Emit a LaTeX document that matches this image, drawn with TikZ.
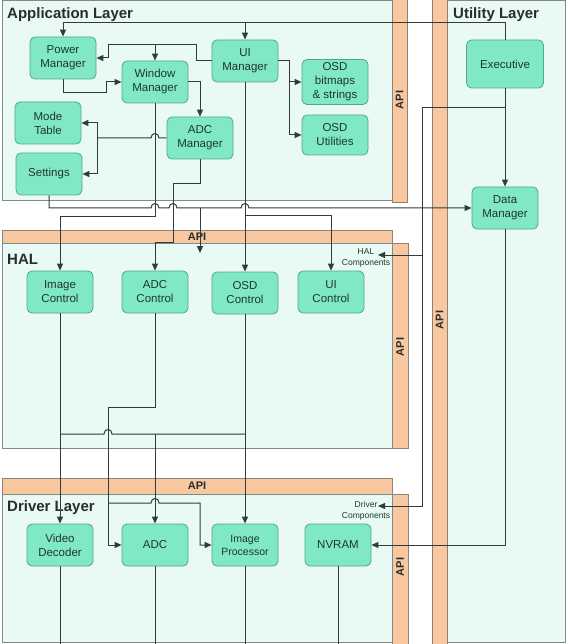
\documentclass[tikz,border=0pt]{standalone}
\usepackage{fontspec}
\setmainfont{Liberation Sans}
\usetikzlibrary{arrows.meta}

\definecolor{layerfill}{RGB}{232,250,243}
\definecolor{layerline}{RGB}{125,140,135}
\definecolor{barfill}{RGB}{250,200,160}
\definecolor{barline}{RGB}{140,130,120}
\definecolor{blockfill}{RGB}{128,233,196}
\definecolor{blockline}{RGB}{85,165,135}
\definecolor{linkcol}{RGB}{50,58,58}
\definecolor{textcol}{RGB}{30,55,45}
\definecolor{titlecol}{RGB}{40,45,45}

\begin{document}
\begin{tikzpicture}[x=1pt,y=-1pt,
    layer/.style={draw=layerline,fill=layerfill,line width=1pt},
    apibar/.style={draw=barline,fill=barfill,line width=0.6pt},
    block/.style={draw=blockline,fill=blockfill,rounded corners=5pt,line width=0.8pt,
      minimum width=66pt,minimum height=42pt,inner sep=1pt,align=center,
      text=textcol,font=\fontsize{11.5}{14}\selectfont},
    link/.style={draw=linkcol,line width=1pt},
    feed/.style={link,-{Triangle[length=7pt,width=6pt]}},
    title/.style={anchor=west,inner sep=0pt,text=titlecol,font=\bfseries\fontsize{15}{15}\selectfont},
    apilabel/.style={text=titlecol,inner sep=0pt,font=\bfseries\fontsize{11}{11}\selectfont},
    note/.style={align=center,inner sep=0pt,text=textcol,font=\fontsize{8.5}{10.5}\selectfont}]

  \useasboundingbox (0,0) rectangle (567,644);
  \clip (0,0) rectangle (567,644);

  % --- layer panels and their API bars ---
  \draw[layer]  (2,1) rectangle (392,201);        % application layer
  \draw[apibar] (392,-1) rectangle (407,202);
  \draw[layer]  (447,1) rectangle (565,642);      % utility layer
  \draw[apibar] (432,-1) rectangle (447,646);
  \draw[apibar] (2,230) rectangle (392,243);      % HAL
  \draw[apibar] (392,243) rectangle (408,448);
  \draw[layer]  (2,243) rectangle (392,448);
  \draw[apibar] (2,478) rectangle (392,494);      % driver layer
  \draw[apibar] (392,494) rectangle (408,646);
  \draw[layer]  (2,494) rectangle (392,642);

  % --- lettering of the layers ---
  \node[title] (applbl) at (7,15)   {Application Layer};
  \node[title] (utllbl) at (453,15) {Utility Layer};
  \node[title] (hallbl) at (7,259)  {HAL};
  \node[title] (drvlbl) at (7,508)  {Driver Layer};

  \node[apilabel,rotate=90] (apiapp) at (399.5,100) {API};
  \node[apilabel]           (apihal) at (197,237)   {API};
  \node[apilabel,rotate=90] (apihv)  at (400,347)   {API};
  \node[apilabel,rotate=90] (apiutl) at (439.5,320) {API};
  \node[apilabel]           (apidrv) at (197,486)   {API};
  \node[apilabel,rotate=90] (apidv)  at (400,567)   {API};

  % --- the blocks ---
  \node[block] (pm)   at ( 63, 58) {Power\\Manager};
  \node[block] (wm)   at (155, 82) {Window\\Manager};
  \node[block] (uim)  at (245, 61) {UI\\Manager};
  \node[block] (mt)   at ( 48,123) {Mode\\Table};
  \node[block] (set)  at ( 49,174) {Settings};
  \node[block] (adcm) at (200,138) {ADC\\Manager};
  \node[block,minimum height=45pt] (osdb) at (335, 82) {OSD\\bitmaps\\\& strings};
  \node[block,minimum height=40pt] (osdu) at (335,135) {OSD\\Utilities};
  \node[block,minimum width=77pt,minimum height=48pt] (exec) at (505,64) {Executive};
  \node[block] (dm)   at (505,208) {Data\\Manager};

  \node[block] (imgc) at ( 60,292) {Image\\Control};
  \node[block] (adcc) at (155,292) {ADC\\Control};
  \node[block] (osdc) at (245,293) {OSD\\Control};
  \node[block] (uic)  at (331,292) {UI\\Control};

  \node[block] (vd)    at ( 60,545) {Video\\Decoder};
  \node[block] (adc)   at (155,545) {ADC};
  \node[block,font=\fontsize{10.5}{13}\selectfont] (ip) at (245,545) {Image\\Processor};
  \node[block] (nvram) at (338,545) {NVRAM};

  \node[note] (halc) at (366,258) {HAL\\Components};
  \node[note] (drvc) at (366,511) {Driver\\Components};

  % --- bend points of the wiring ---
  \coordinate (topbus)  at (0,23);
  \coordinate (uibus)   at (108,45);
  \coordinate (modebus) at (97,138);
  \coordinate (spine)   at (422,108);
  \coordinate (halin)   at (378,255);
  \coordinate (drvin)   at (378,506);
  \coordinate (halapi)  at (200,253);

  % --- application layer wiring ---
  \draw[feed] (exec.north) -- (exec.north |- topbus) -| (pm.north);
  \draw[feed] (uim.north |- topbus) -- (uim.north);
  \draw[feed] (uim.west) -- ++(-15,0) |- (uibus) |- (pm.east);
  \draw[feed] (wm.north |- uibus) -- (wm.north);
  \draw[feed] (pm.south) -- ++(0,13) -| ([xshift=-15pt]wm.west) -- (wm.west);
  \draw[feed] (wm.east) -| (adcm.north);
  \draw[feed] (uim.east) -- ++(11,0) |- (osdu.west);
  \draw[feed] ([xshift=-13pt]osdb.west) -- (osdb.west);
  \draw[link] (adcm.west) -- (159,138) .. controls +(0,-6) and +(0,-6) .. (151,138) -- (modebus);
  \draw[feed] (modebus) |- (mt.east);
  \draw[feed] (modebus) |- (set.east);

  % --- settings to the data manager, hopping the downward lines ---
  \draw[feed] (set.south) |- (151,208) .. controls +(0,-6) and +(0,-6) .. (159,208)
      -- (169,208) .. controls +(0,-6) and +(0,-6) .. (177,208)
      -- (241,208) .. controls +(0,-6) and +(0,-6) .. (249,208) -- (dm.west);
  \draw[feed] (halapi |- dm.west) -- (halapi);

  % --- application layer down into the HAL ---
  \draw[feed] (wm.south) -- ++(0,113) -| (imgc.north);
  \draw[feed] (adcm.south) -- ++(0,24) -| (173,242) -| (adcc.north);
  \draw[feed] (uim.south) -- (osdc.north);
  \draw[feed] (245,215) -| (uic.north);

  % --- utility layer ---
  \draw[feed] (exec.south) -- (dm.north);
  \draw[feed] (exec.south |- spine) -- (spine) |- (drvin);
  \draw[feed] (spine |- halin) -- (halin);
  \draw[feed] (dm.south) |- (nvram.east);

  % --- HAL down into the driver layer ---
  \draw[feed] (imgc.south) -- (vd.north);
  \draw[feed] (osdc.south) -- (ip.north);
  \draw[link] (60,434) -- (104,434) .. controls +(0,-6) and +(0,-6) .. (112,434) -- (245,434);
  \draw[feed] (adc.north |- 0,434) -- (adc.north);
  \draw[feed] (adcc.south) |- (108,407) |- (adc.west);
  \draw[feed] (108,503) -- (151,503) .. controls +(0,-6) and +(0,-6) .. (159,503) -| (200,545) -- (ip.west);

  % --- drivers on down, out of the picture ---
  \foreach \n in {vd,adc,ip,nvram}
    \draw[link] (\n.south) -- ++(0,90);
\end{tikzpicture}
\end{document}
